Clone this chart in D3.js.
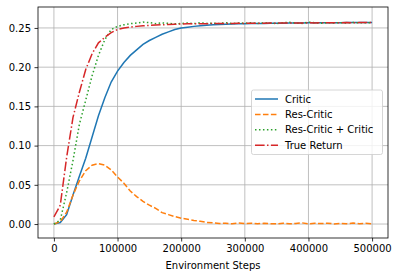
<!DOCTYPE html>
<html>
<head>
<meta charset="utf-8">
<script src="https://cdn.jsdelivr.net/npm/d3@7"></script>
<style>
  body { margin: 0; background: #fff; }
  svg { display: block; font-family: 'DejaVu Sans', sans-serif; }
</style>
</head>
<body>
<svg id="chart" width="399" height="278"></svg>
<script>
// environment steps, one point every 10000
const steps = d3.range(0, 500001, 10000);

const critic = [0.000, 0.002, 0.012, 0.037, 0.061, 0.084, 0.111, 0.138, 0.161, 0.181, 0.195,
  0.206, 0.215, 0.222, 0.229, 0.234, 0.238, 0.242, 0.245, 0.248, 0.250,
  0.251, 0.252, 0.2528, 0.2535, 0.254, 0.2544, 0.2548, 0.255, 0.2553, 0.2555,
  0.2557, 0.2558, 0.2558, 0.256, 0.2561, 0.2561, 0.2562, 0.2563, 0.2563, 0.2565,
  0.2565, 0.2566, 0.2566, 0.2567, 0.2567, 0.2568, 0.2568, 0.2569, 0.2569, 0.257];

const resCritic = [0.000, 0.003, 0.015, 0.037, 0.055, 0.068, 0.075, 0.077, 0.075, 0.069, 0.060,
  0.052, 0.042, 0.035, 0.029, 0.024, 0.020, 0.0145, 0.012, 0.0095, 0.0075,
  0.006, 0.0045, 0.0035, 0.002, 0.0015, 0.0008, 0.001, 0.0004, 0.0012, 0.0006,
  0.001, 0.0003, 0.0009, 0.0005, 0.0002, 0.001, 0.0004, 0.0007, 0.0015, 0.0003,
  0.0009, 0.0006, 0.0011, 0.0002, 0.0008, 0.0005, 0.0012, 0.0004, 0.0009, 0.0003];

const resPlusCritic = [0.000, 0.005, 0.040, 0.081, 0.127, 0.158, 0.189, 0.215, 0.235, 0.248, 0.252,
  0.254, 0.2555, 0.2562, 0.2575, 0.2568, 0.2555, 0.2565, 0.2558, 0.2552, 0.2556,
  0.2563, 0.2555, 0.2566, 0.2558, 0.2562, 0.2557, 0.2568, 0.2556, 0.2563, 0.256,
  0.2567, 0.2558, 0.2564, 0.2561, 0.2557, 0.2566, 0.2572, 0.2562, 0.2558, 0.2575,
  0.2565, 0.2559, 0.2567, 0.2562, 0.2568, 0.2563, 0.2569, 0.2565, 0.2566, 0.2568];

const trueReturn = [0.009, 0.024, 0.085, 0.136, 0.168, 0.197, 0.217, 0.231, 0.238, 0.244, 0.248,
  0.250, 0.251, 0.252, 0.2527, 0.2532, 0.2537, 0.254, 0.2545, 0.2548, 0.255,
  0.2552, 0.2553, 0.2555, 0.2554, 0.2556, 0.2557, 0.2556, 0.2558, 0.2559, 0.2558,
  0.256, 0.2561, 0.256, 0.2562, 0.2561, 0.2563, 0.2562, 0.2564, 0.2563, 0.2565,
  0.2564, 0.2566, 0.2565, 0.2567, 0.2566, 0.2568, 0.2567, 0.2568, 0.2569, 0.2569];

const xTicks = [0, 100000, 200000, 300000, 400000, 500000];
const yTicks = [0.00, 0.05, 0.10, 0.15, 0.20, 0.25];

const series = [
  { name: 'Critic', values: critic, color: '#1f77b4', dash: null },
  { name: 'Res-Critic', values: resCritic, color: '#ff7f0e', dash: '5.55,2.4' },
  { name: 'Res-Critic + Critic', values: resPlusCritic, color: '#2ca02c', dash: '1.5,2.475' },
  { name: 'True Return', values: trueReturn, color: '#d62728', dash: '9.6,2.4,1.5,2.4' }
];

const plotL = 38, plotR = 388, plotT = 7, plotB = 238;

const x = d3.scaleLinear().domain([-25000, 525000]).range([plotL, plotR]);
const y = d3.scaleLinear().domain([-0.0178, 0.2767]).range([plotB, plotT]);

const svg = d3.select('#chart');

// grid
const grid = svg.append('g').attr('stroke', '#b0b0b0').attr('stroke-width', 0.8);
grid.selectAll('line.gx').data(xTicks).join('line')
  .attr('class', 'gx')
  .attr('x1', d => x(d)).attr('x2', d => x(d))
  .attr('y1', plotT).attr('y2', plotB);
grid.selectAll('line.gy').data(yTicks).join('line')
  .attr('class', 'gy')
  .attr('x1', plotL).attr('x2', plotR)
  .attr('y1', d => y(d)).attr('y2', d => y(d));

// lines
const line = d3.line()
  .x((d, i) => x(steps[i]))
  .y(d => y(d));

svg.append('g')
  .selectAll('path')
  .data(series)
  .join('path')
  .attr('fill', 'none')
  .attr('stroke', d => d.color)
  .attr('stroke-width', 1.5)
  .attr('stroke-dasharray', d => d.dash)
  .attr('d', d => line(d.values));

// axes
const xAxis = d3.axisBottom(x).tickValues(xTicks).tickFormat(d3.format('d'))
  .tickSizeOuter(0).tickSize(3.5).tickPadding(3.5);
const yAxis = d3.axisLeft(y).tickValues(yTicks).tickFormat(d3.format('.2f'))
  .tickSizeOuter(0).tickSize(3.5).tickPadding(3.5);

const gx = svg.append('g').attr('transform', `translate(0,${plotB})`).call(xAxis);
const gy = svg.append('g').attr('transform', `translate(${plotL},0)`).call(yAxis);
[gx, gy].forEach(g => {
  g.select('.domain').remove();
  g.selectAll('.tick line').attr('stroke', '#000').attr('stroke-width', 0.8);
  g.selectAll('.tick text').attr('fill', '#000')
    .attr('font-size', 10).attr('font-family', 'DejaVu Sans, sans-serif');
});

// frame
svg.append('rect')
  .attr('x', plotL).attr('y', plotT)
  .attr('width', plotR - plotL).attr('height', plotB - plotT)
  .attr('fill', 'none').attr('stroke', '#000').attr('stroke-width', 0.8);

svg.append('text')
  .attr('x', (plotL + plotR) / 2).attr('y', 269)
  .attr('text-anchor', 'middle')
  .attr('font-size', 10)
  .text('Environment Steps');

// legend
const legend = svg.append('g');
legend.append('rect')
  .attr('x', 251.5).attr('y', 90).attr('width', 131).attr('height', 64.5)
  .attr('rx', 2).attr('fill', '#fff').attr('fill-opacity', 0.8)
  .attr('stroke', '#cccccc').attr('stroke-width', 0.8);

const item = legend.selectAll('g.item')
  .data(series)
  .join('g')
  .attr('class', 'item')
  .attr('transform', (d, i) => `translate(0,${99 + i * 15.4})`);
item.append('line')
  .attr('x1', 255).attr('x2', 278)
  .attr('stroke', d => d.color).attr('stroke-width', 1.5)
  .attr('stroke-dasharray', d => d.dash);
item.append('text')
  .attr('x', 285).attr('y', 3.6)
  .attr('font-size', 10)
  .text(d => d.name);
</script>
</body>
</html>
